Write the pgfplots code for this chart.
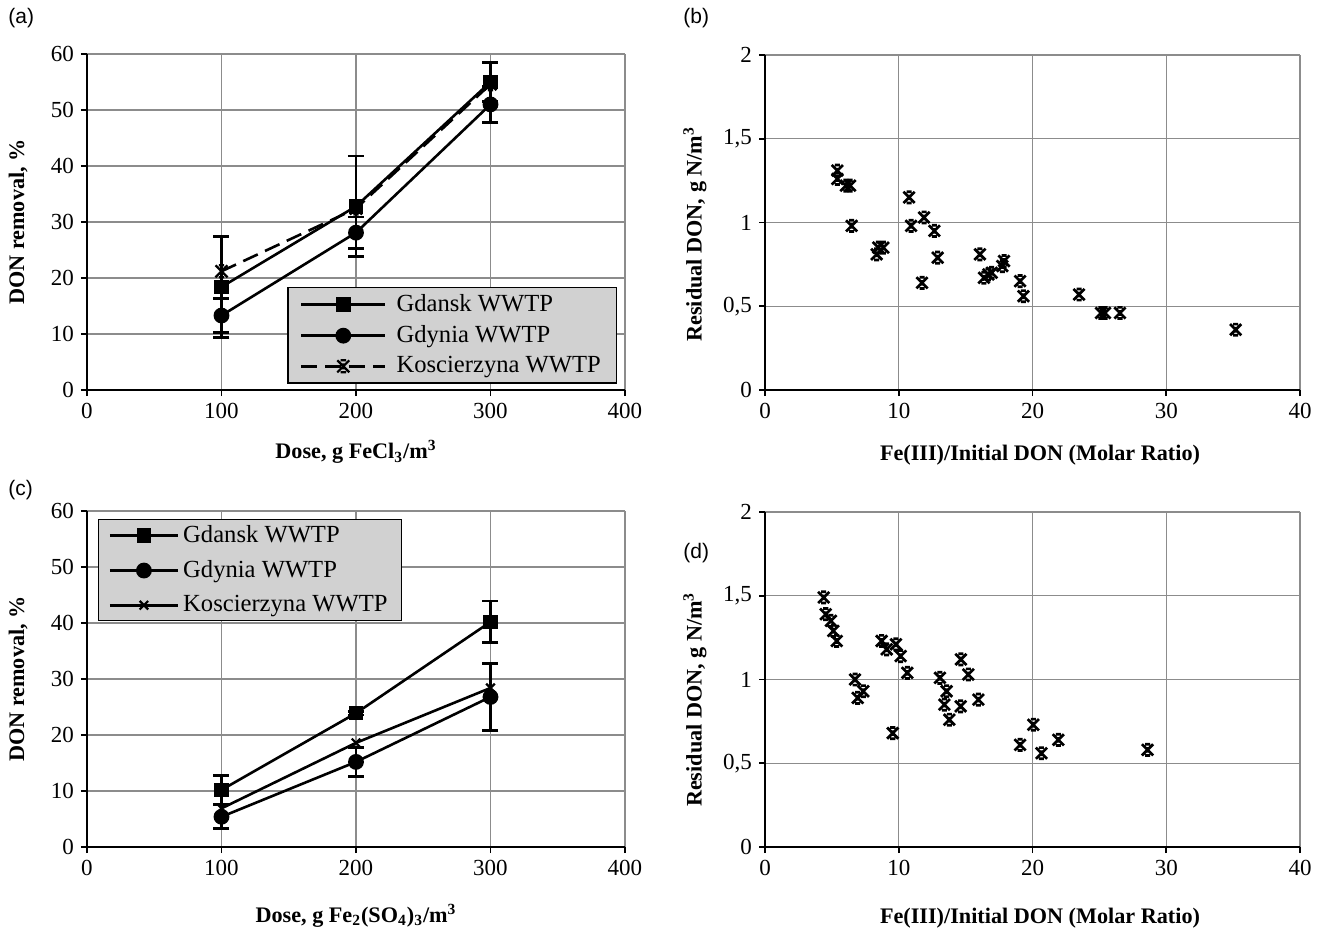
\documentclass[border=0pt]{standalone}
\usepackage{fontspec}
\setmainfont{Liberation Serif}
\newfontfamily\arialfont{Liberation Sans}
\usepackage{pgfplots}
\pgfplotsset{compat=1.18}

\pgfdeclareplotmark{xstar}{%
  \pgfpathmoveto{\pgfqpoint{-\pgfplotmarksize}{-\pgfplotmarksize}}%
  \pgfpathlineto{\pgfqpoint{\pgfplotmarksize}{\pgfplotmarksize}}%
  \pgfpathmoveto{\pgfqpoint{-\pgfplotmarksize}{\pgfplotmarksize}}%
  \pgfpathlineto{\pgfqpoint{\pgfplotmarksize}{-\pgfplotmarksize}}%
  \pgfpathmoveto{\pgfqpoint{-0.45\pgfplotmarksize}{\pgfplotmarksize}}%
  \pgfpathlineto{\pgfqpoint{0.45\pgfplotmarksize}{\pgfplotmarksize}}%
  \pgfpathmoveto{\pgfqpoint{-0.45\pgfplotmarksize}{-\pgfplotmarksize}}%
  \pgfpathlineto{\pgfqpoint{0.45\pgfplotmarksize}{-\pgfplotmarksize}}%
  \pgfpathmoveto{\pgfqpoint{0pt}{-0.5\pgfplotmarksize}}%
  \pgfpathlineto{\pgfqpoint{0pt}{0.5\pgfplotmarksize}}%
  \pgfusepathqstroke
}

\pgfplotsset{
  panel/.style={
    scale only axis, anchor=south west,
    axis lines*=left, axis line style={black, line width=0.9pt, -},
    grid=major, major grid style={black!45, line width=0.6pt},
    tick align=outside, major tick length=3pt, tick style={black, line width=0.8pt},
    ticklabel style={font=\fontsize{11.5}{13}\selectfont},
    /pgf/number format/assume math mode=true,
    label style={font=\bfseries\fontsize{11.1}{13}\selectfont},
    clip=false,
  },
  doseaxis/.style={
    panel, width=269pt, height=168pt,
    xmin=0, xmax=400, ymin=0, ymax=60,
    xtick={0,100,200,300,400}, ytick={0,10,20,30,40,50,60},
    ylabel={DON removal, \%},
    ylabel style={at={(axis description cs:-0.128,0.5)}, anchor=center},
    legend cell align=left,
    legend style={fill=black!18, draw=black, line width=0.6pt,
      font=\fontsize{12.3}{14}\selectfont, inner xsep=6pt, inner ysep=1.5pt},
  },
  ratioaxis/.style={
    panel, width=267.5pt, height=167.5pt,
    xmin=0, xmax=40, ymin=0, ymax=2,
    xtick={0,10,20,30,40}, ytick={0,0.5,1,1.5,2},
    yticklabels={0,{0,5},1,{1,5},2},
    xlabel={Fe(III)/Initial DON (Molar Ratio)},
    ylabel={Residual DON, g N/m\textsuperscript{3}},
  },
  gdansk/.style={black, line width=1.3pt, mark=square*, mark size=3pt, mark options={solid}},
  gdynia/.style={black, line width=1.3pt, mark=*, mark size=3.3pt, mark options={solid}},
  errs/.style={error bars/.cd, y dir=both, y explicit,
    error bar style={line width=1.3pt, solid},
    error mark options={line width=1.3pt, mark size=4pt, rotate=90}},
  stars/.style={only marks, black, mark=xstar, mark size=2.8pt, mark options={line width=1.35pt}},
}

\begin{document}
\begin{tikzpicture}
\useasboundingbox (0pt,0pt) rectangle (660.5pt,467pt);

% (a)
\begin{axis}[doseaxis, at={(43.5pt,272pt)},
  xlabel={Dose, g FeCl\textsubscript{3}/m\textsuperscript{3}},
  xlabel style={at={(axis description cs:0.5,-0.185)}, anchor=center},
  legend style={at={(axis cs:149,18.4)}, anchor=north west, row sep=1.5pt},
  legend image code/.code={\draw[mark repeat=2,mark phase=2,#1] plot coordinates {(0pt,0pt) (21pt,0pt) (42pt,0pt)};}]
\addplot[gdansk, errs] table[x=x, y=y, y error=e] {
x y e
100 18.4 9.0
200 32.8 9.0
300 55.0 3.5
};
\addlegendentry{\hspace{3pt}Gdansk WWTP}
\addplot[gdynia, errs] table[x=x, y=y, y error=e] {
x y e
100 13.3 3.0
200 28.1 2.8
300 51.0 3.2
};
\addlegendentry{\hspace{3pt}Gdynia WWTP}
\addplot[black, line width=1.3pt, dash pattern=on 8pt off 4pt, mark=xstar, mark size=3pt, mark options={solid, line width=1.1pt}] table {
x y
100 21.2
200 32.4
300 54.6
};
\addlegendentry{\hspace{3pt}Koscierzyna WWTP\hspace{6pt}}
\end{axis}

% (b)
\begin{axis}[ratioaxis, at={(382.5pt,272pt)},
  xlabel style={at={(axis description cs:0.514,-0.194)}, anchor=center},
  ylabel style={at={(axis description cs:-0.131,0.465)}, anchor=center}]
\addplot[stars] table {
x y
5.41 1.31
5.41 1.26
6.05 1.22
6.36 1.22
6.48 0.98
8.35 0.81
8.47 0.85
8.85 0.85
10.77 1.15
10.92 0.98
11.89 1.03
11.74 0.64
12.66 0.95
12.91 0.79
16.07 0.81
16.37 0.67
16.70 0.69
16.95 0.70
17.74 0.74
17.87 0.77
19.07 0.65
19.32 0.56
23.48 0.57
25.12 0.46
25.42 0.46
26.54 0.46
35.19 0.36
};
\end{axis}

% (c)
\begin{axis}[doseaxis, at={(43.5pt,43.5pt)},
  xlabel={Dose, g Fe\textsubscript{2}(SO\textsubscript{4})\textsubscript{3}/m\textsuperscript{3}},
  xlabel style={at={(axis description cs:0.5,-0.205)}, anchor=center},
  legend style={at={(axis cs:8.2,58.6)}, anchor=north west, row sep=3.5pt, inner ysep=1pt, inner xsep=5pt},
  legend image code/.code={\draw[mark repeat=2,mark phase=2,#1] plot coordinates {(0pt,0pt) (17pt,0pt) (34pt,0pt)};}]
\addplot[gdansk, errs] table[x=x, y=y, y error=e] {
x y e
100 10.2 2.6
200 23.9 0.3
300 40.2 3.7
};
\addlegendentry{Gdansk WWTP}
\addplot[gdynia, errs] table[x=x, y=y, y error=e] {
x y e
100 5.4 2.1
200 15.2 2.6
300 26.8 6.0
};
\addlegendentry{Gdynia WWTP}
\addplot[black, line width=1.3pt, mark=x, mark size=3pt, mark options={solid, line width=1.1pt}] table {
x y
100 6.9
200 18.6
300 28.4
};
\addlegendentry{Koscierzyna WWTP}
\end{axis}

% (d)
\begin{axis}[ratioaxis, at={(382.5pt,43.5pt)},
  xlabel style={at={(axis description cs:0.514,-0.212)}, anchor=center},
  ylabel style={at={(axis description cs:-0.131,0.44)}, anchor=center}]
\addplot[stars] table {
x y
4.39 1.49
4.54 1.39
4.93 1.35
5.11 1.29
5.36 1.23
6.73 1.00
6.93 0.89
7.35 0.93
8.72 1.23
9.10 1.18
9.55 0.68
9.79 1.21
10.14 1.14
10.64 1.04
13.08 1.01
13.41 0.85
13.58 0.93
13.78 0.76
14.63 0.84
14.65 1.12
15.20 1.03
15.95 0.88
19.07 0.61
20.06 0.73
20.67 0.56
21.93 0.64
28.60 0.58
};
\end{axis}

\node[anchor=north west, inner sep=0pt, font=\arialfont\fontsize{10.5}{12}\selectfont] at (4pt,463pt) {(a)};
\node[anchor=north west, inner sep=0pt, font=\arialfont\fontsize{10.5}{12}\selectfont] at (341.5pt,463pt) {(b)};
\node[anchor=north west, inner sep=0pt, font=\arialfont\fontsize{10.5}{12}\selectfont] at (4pt,227pt) {(c)};
\node[anchor=north west, inner sep=0pt, font=\arialfont\fontsize{10.5}{12}\selectfont] at (341.5pt,195.5pt) {(d)};
\end{tikzpicture}
\end{document}
